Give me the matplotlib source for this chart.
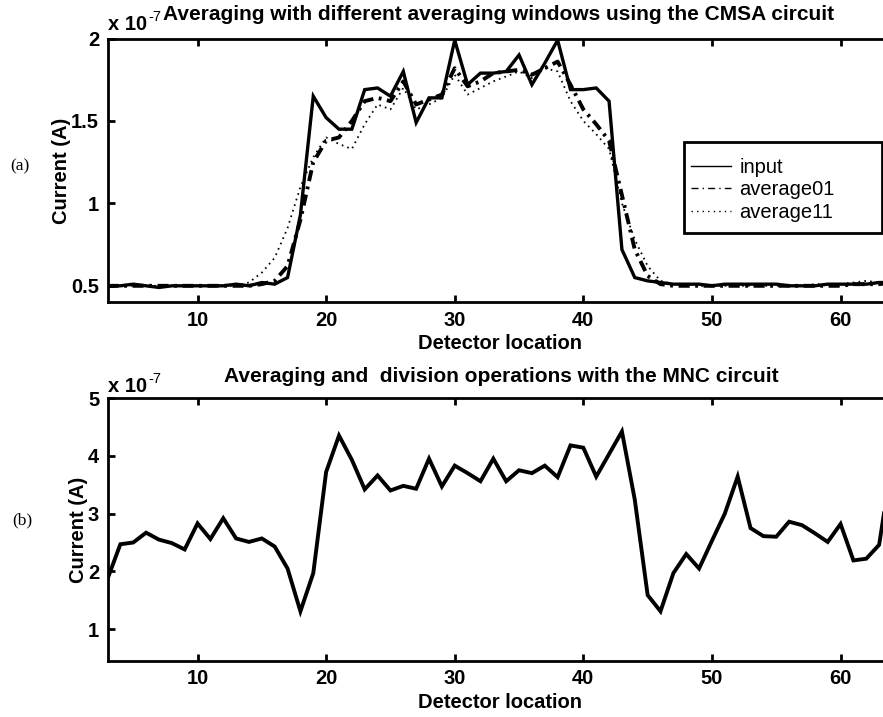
import matplotlib
matplotlib.use("Agg")
import matplotlib.pyplot as plt
from matplotlib.lines import Line2D
from matplotlib.patches import Rectangle

plt.rcParams['font.family'] = ['Liberation Sans', 'DejaVu Sans']
plt.rcParams['lines.scale_dashes'] = False

# ---------------- data ----------------
detector = list(range(3, 65))

input_cur = [0.50, 0.50, 0.51, 0.50, 0.49, 0.50, 0.50, 0.50, 0.50, 0.50,
             0.51, 0.50, 0.52, 0.51, 0.55, 0.93, 1.65, 1.52, 1.45, 1.45,
             1.69, 1.70, 1.65, 1.80, 1.49, 1.64, 1.64, 1.99, 1.72, 1.79,
             1.79, 1.80, 1.90, 1.72, 1.85, 1.99, 1.69, 1.69, 1.70, 1.62,
             0.72, 0.55, 0.53, 0.52, 0.51, 0.51, 0.51, 0.50, 0.51, 0.51,
             0.51, 0.51, 0.51, 0.50, 0.50, 0.50, 0.51, 0.51, 0.51, 0.51,
             0.52, 0.52]

average01 = [0.50, 0.50, 0.50, 0.50, 0.50, 0.50, 0.50, 0.50, 0.50, 0.50,
             0.50, 0.50, 0.51, 0.53, 0.62, 0.90, 1.25, 1.38, 1.40, 1.50,
             1.62, 1.64, 1.62, 1.74, 1.60, 1.63, 1.66, 1.82, 1.71, 1.74,
             1.79, 1.80, 1.81, 1.78, 1.82, 1.86, 1.72, 1.57, 1.48, 1.38,
             1.05, 0.72, 0.56, 0.51, 0.50, 0.50, 0.50, 0.50, 0.50, 0.50,
             0.50, 0.50, 0.50, 0.50, 0.50, 0.50, 0.50, 0.50, 0.51, 0.51,
             0.51, 0.52]

average11 = [0.50, 0.50, 0.50, 0.50, 0.50, 0.50, 0.50, 0.50, 0.50, 0.50,
             0.50, 0.52, 0.58, 0.67, 0.85, 1.10, 1.28, 1.40, 1.36, 1.33,
             1.48, 1.60, 1.57, 1.70, 1.57, 1.60, 1.64, 1.78, 1.66, 1.70,
             1.74, 1.77, 1.80, 1.76, 1.82, 1.80, 1.62, 1.50, 1.42, 1.33,
             1.00, 0.78, 0.62, 0.53, 0.51, 0.51, 0.50, 0.50, 0.50, 0.50,
             0.50, 0.50, 0.50, 0.50, 0.50, 0.51, 0.51, 0.51, 0.52, 0.53,
             0.52, 0.53]

mnc_cur = [1.87, 2.47, 2.50, 2.67, 2.55, 2.49, 2.38, 2.83, 2.56, 2.92,
           2.57, 2.51, 2.57, 2.43, 2.05, 1.31, 1.97, 3.72, 4.35, 3.93,
           3.42, 3.66, 3.40, 3.48, 3.43, 3.95, 3.47, 3.83, 3.70, 3.56,
           3.95, 3.56, 3.75, 3.70, 3.83, 3.63, 4.18, 4.14, 3.64, 4.03,
           4.42, 3.24, 1.59, 1.31, 1.97, 2.30, 2.05, 2.53, 3.00, 3.64,
           2.75, 2.61, 2.60, 2.86, 2.80, 2.66, 2.51, 2.82, 2.19, 2.22,
           2.46, 3.90]

xticks = [10, 20, 30, 40, 50, 60]
yticks_a = [0.5, 1, 1.5, 2]
yticklabels_a = ['0.5', '1', '1.5', '2']
yticks_b = [1, 2, 3, 4, 5]
yticklabels_b = ['1', '2', '3', '4', '5']
legend_labels = ['input', 'average01', 'average11']

title_a = 'Averaging with different averaging windows using the CMSA circuit'
title_b = 'Averaging and  division operations with the MNC circuit'

# ---------------- figure ----------------
W, H = 883, 717
fig = plt.figure(figsize=(W / 100, H / 100), dpi=100)

def px_axes(l, t, r, b):
    return [l / W, 1 - b / H, (r - l) / W, (b - t) / H]

ax1 = fig.add_axes(px_axes(107.5, 38.5, 892, 302.3))
ax2 = fig.add_axes(px_axes(107.5, 398, 892, 661))

FS = 14.5

def style(ax):
    for s in ax.spines.values():
        s.set_linewidth(2.0)
        s.set_color('black')
    ax.tick_params(direction='in', length=5, width=2, top=True, right=True,
                   labelsize=FS, pad=6)
    for lab in ax.get_xticklabels() + ax.get_yticklabels():
        lab.set_fontweight('bold')
    ax.set_xlabel('Detector location', fontsize=FS, fontweight='bold', labelpad=3)
    ax.set_ylabel('Current (A)', fontsize=FS, fontweight='bold', labelpad=0)

# top panel
ax1.plot(detector, input_cur, color='black', lw=2.4, ls='-', solid_joinstyle='miter')
ax1.plot(detector, average01, color='black', lw=2.8, ls=(0, (8, 4, 2, 4)))
ax1.plot(detector, average11, color='black', lw=1.3, ls=(0, (1.2, 3)))
ax1.set_xlim(3, 64)
ax1.set_ylim(0.4, 2.0)
ax1.set_xticks(xticks)
ax1.set_xticklabels([str(v) for v in xticks])
ax1.set_yticks(yticks_a)
ax1.set_yticklabels(yticklabels_a)
style(ax1)

# legend (box drawn separately, MATLAB-like extra padding)
handles = [Line2D([], [], color='black', lw=1.0, ls='-'),
           Line2D([], [], color='black', lw=1.0, ls=(0, (5, 3, 1, 3))),
           Line2D([], [], color='black', lw=1.0, ls=(0, (1, 3)))]
box = Rectangle((0.7349, 0.2616), 0.9873 - 0.7349, 0.6077 - 0.2616,
                transform=ax1.transAxes, facecolor='white', edgecolor='black',
                linewidth=2.0, zorder=4)
ax1.add_patch(box)
leg = ax1.legend(handles, legend_labels, loc='upper left',
                 bbox_to_anchor=(0.7349, 0.575), fontsize=FS, frameon=False,
                 borderpad=0.0, handlelength=2.0, handletextpad=0.4,
                 labelspacing=0.18, borderaxespad=0.35)
leg.set_zorder(5)

# bottom panel
ax2.plot(detector, mnc_cur, color='black', lw=2.8, solid_joinstyle='miter')
ax2.set_xlim(3, 64)
ax2.set_ylim(0.45, 5.0)
ax2.set_xticks(xticks)
ax2.set_xticklabels([str(v) for v in xticks])
ax2.set_yticks(yticks_b)
ax2.set_yticklabels(yticklabels_b)
style(ax2)

# titles and exponent texts
TFS = 15.0
fig.text(499 / W, 1 - 20 / H, title_a, ha='center', va='baseline',
         fontsize=TFS, fontweight='bold')
fig.text(501 / W, 1 - 382 / H, title_b, ha='center', va='baseline',
         fontsize=TFS, fontweight='bold')
for base_y, sup_y in [(30, 21), (392, 383)]:
    fig.text(108 / W, 1 - base_y / H, 'x 10', ha='left', va='baseline',
             fontsize=FS, fontweight='bold')
    fig.text(148 / W, 1 - sup_y / H, '-7', ha='left', va='baseline',
             fontsize=10.5)

# panel letters
fig.text(20 / W, 1 - 166 / H, '(a)', ha='center', va='center',
         fontsize=12.5, family='Liberation Serif')
fig.text(22 / W, 1 - 520 / H, '(b)', ha='center', va='center',
         fontsize=12.5, family='Liberation Serif')

fig.savefig('out.png', dpi=100)
